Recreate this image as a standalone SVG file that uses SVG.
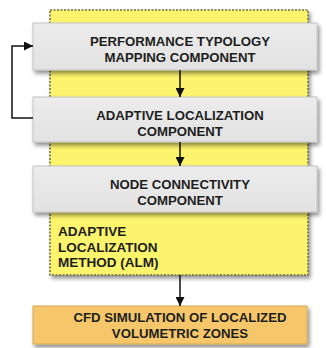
<svg xmlns="http://www.w3.org/2000/svg" width="326" height="348" viewBox="0 0 326 348">
<defs>
<filter id="sh" x="-10%" y="-20%" width="130%" height="160%">
<feGaussianBlur in="SourceAlpha" stdDeviation="2"/>
<feOffset dx="1.5" dy="2.5" result="b"/>
<feComponentTransfer><feFuncA type="linear" slope="0.45"/></feComponentTransfer>
<feMerge><feMergeNode/><feMergeNode in="SourceGraphic"/></feMerge>
</filter>
<linearGradient id="gg" x1="0" y1="0" x2="0" y2="1">
<stop offset="0" stop-color="#ececec"/><stop offset="1" stop-color="#e2e2e2"/>
</linearGradient>
<marker id="ah" viewBox="0 0 10 10" refX="10" refY="5" markerWidth="9" markerHeight="9" markerUnits="userSpaceOnUse" orient="auto">
<path d="M0,0 L10,5 L0,10 z" fill="#111"/>
</marker>
</defs>
<style>
.t{font-family:"Liberation Sans",Arial,sans-serif;font-weight:bold;font-size:13.2px;fill:#1e1e1e;text-anchor:middle}
.l{font-family:"Liberation Sans",Arial,sans-serif;font-weight:bold;font-size:13.5px;fill:#1e1e1e}
.g{fill:url(#gg);stroke:#c4c4c4;stroke-width:1;filter:url(#sh)}
.c{fill:none;stroke:#111;stroke-width:1.5}
</style>
<g id="alm">
<rect x="50" y="10" width="258" height="265" fill="#fbf46c" stroke="#6b6a3a" stroke-width="1.5" stroke-dasharray="2,1.5" filter="url(#sh)"/>
<text class="l" x="58" y="236">ADAPTIVE</text>
<text class="l" x="58" y="252">LOCALIZATION</text>
<text class="l" x="58" y="267">METHOD (ALM)</text>
</g>
<g id="ptm">
<rect class="g" x="33" y="23" width="284" height="47"/>
<text class="t" x="180" y="46">PERFORMANCE TYPOLOGY</text>
<text class="t" x="180" y="62">MAPPING COMPONENT</text>
</g>
<g id="alc">
<rect class="g" x="33" y="97" width="284" height="45"/>
<text class="t" x="180" y="120">ADAPTIVE LOCALIZATION</text>
<text class="t" x="180" y="136">COMPONENT</text>
</g>
<g id="ncc">
<rect class="g" x="33" y="166" width="284" height="46"/>
<text class="t" x="180" y="189">NODE CONNECTIVITY</text>
<text class="t" x="180" y="205">COMPONENT</text>
</g>
<g id="cfd">
<rect x="33" y="306" width="274" height="38" fill="#f6c76a" stroke="#d4a850" stroke-width="1" filter="url(#sh)"/>
<text class="t" x="180" y="322">CFD SIMULATION OF LOCALIZED</text>
<text class="t" x="180" y="338">VOLUMETRIC ZONES</text>
</g>
<g id="connectors">
<path class="c" d="M180,70 V97" marker-end="url(#ah)"/>
<path class="c" d="M180,142 V166" marker-end="url(#ah)"/>
<path class="c" d="M180,275 V306" marker-end="url(#ah)"/>
<path class="c" d="M33,118 H12 V46 H33" marker-end="url(#ah)"/>
</g>
</svg>
